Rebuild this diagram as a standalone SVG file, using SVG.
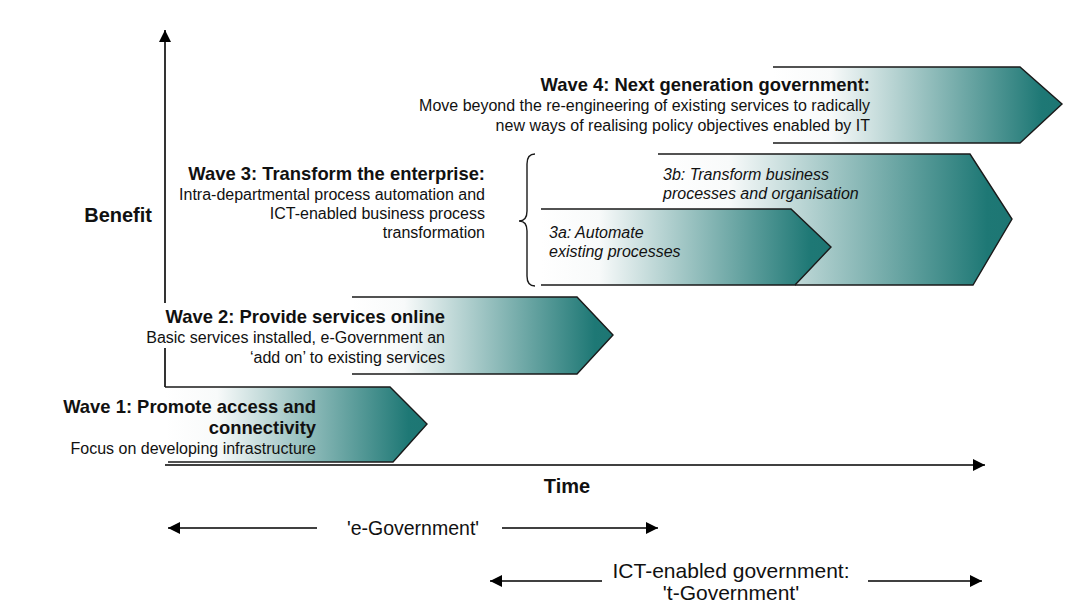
<svg xmlns="http://www.w3.org/2000/svg" width="1084" height="610" viewBox="0 0 1084 610">
  <defs>
    <linearGradient id="teal" x1="0" y1="0" x2="1" y2="0">
      <stop offset="0" stop-color="#ffffff"/>
      <stop offset="0.2" stop-color="#f8fafa"/>
      <stop offset="0.93" stop-color="#1e7875"/>
      <stop offset="1" stop-color="#1d7673"/>
    </linearGradient>
    <marker id="ah" viewBox="0 0 12 12" refX="12" refY="6" markerWidth="12" markerHeight="12" orient="auto" markerUnits="userSpaceOnUse">
      <path d="M0,0 L12,6 L0,12 z" fill="#000"/>
    </marker>
    <marker id="ahs" viewBox="0 0 12 12" refX="12" refY="6" markerWidth="13" markerHeight="12" orient="auto" markerUnits="userSpaceOnUse">
      <path d="M0,0 L12,6 L0,12 z" fill="#000"/>
    </marker>
  </defs>
  <style>
    .fill { fill: url(#teal); stroke: none; }
    .edge { fill: none; stroke: #1a1a1a; stroke-width: 1.4; stroke-linejoin: miter; }
    .axis { fill: none; stroke: #000; stroke-width: 1.6; }
    .span { fill: none; stroke: #000; stroke-width: 1.6; }
    .title { font-family: "Liberation Sans", Arial, sans-serif; font-weight: bold; font-size: 18.4px; fill: #111; }
    .desc { font-family: "Liberation Sans", Arial, sans-serif; font-size: 16px; fill: #111; }
    .sub { font-family: "Liberation Sans", Arial, sans-serif; font-style: italic; font-size: 16px; fill: #111; }
    .lbl { font-family: "Liberation Sans", Arial, sans-serif; font-weight: bold; font-size: 20px; fill: #111; }
    .era { font-family: "Liberation Sans", Arial, sans-serif; font-size: 19.5px; fill: #111; }
    .era2 { font-family: "Liberation Sans", Arial, sans-serif; font-size: 21px; fill: #111; }
  </style>

  <g id="connectors">
    <line class="axis" x1="165" y1="387" x2="165" y2="30" marker-end="url(#ah)"/>
    <line class="axis" x1="165" y1="465" x2="985" y2="465" marker-end="url(#ah)"/>
    <line class="span" x1="317" y1="528" x2="168" y2="528" marker-end="url(#ahs)"/>
    <line class="span" x1="502" y1="528" x2="658" y2="528" marker-end="url(#ahs)"/>
    <line class="span" x1="602" y1="581" x2="490" y2="581" marker-end="url(#ahs)"/>
    <line class="span" x1="868" y1="581" x2="982" y2="581" marker-end="url(#ahs)"/>
  </g>

  <g id="axis-labels">
    <text class="lbl" x="152" y="222" text-anchor="end">Benefit</text>
    <text class="lbl" x="567" y="493" text-anchor="middle">Time</text>
  </g>

  <g id="wave1">
    <polygon class="fill" points="165,387 390,387 427,424 393,462 168,462"/>
    <polyline class="edge" points="165,387 390,387 427,424 393,462 168,462"/>
    <text class="title" x="316" y="413" text-anchor="end">Wave 1: Promote access and</text>
    <text class="title" x="316" y="434" text-anchor="end">connectivity</text>
    <text class="desc" x="316" y="454" text-anchor="end">Focus on developing infrastructure</text>
  </g>

  <g id="wave2">
    <polygon class="fill" points="352,297 577,297 613,335 577,374 352,374"/>
    <polyline class="edge" points="352,297 577,297 613,335 577,374 352,374"/>
    <rect x="146" y="303" width="40" height="45" fill="#fff"/>
    <text class="title" x="445" y="323" text-anchor="end">Wave 2: Provide services online</text>
    <text class="desc" x="445" y="343" text-anchor="end">Basic services installed, e-Government an</text>
    <text class="desc" x="445" y="363" text-anchor="end">‘add on’ to existing services</text>
  </g>

  <g id="wave3">
    <text class="title" x="485" y="180" text-anchor="end">Wave 3: Transform the enterprise:</text>
    <text class="desc" x="485" y="200" text-anchor="end">Intra-departmental process automation and</text>
    <text class="desc" x="485" y="219" text-anchor="end">ICT-enabled business process</text>
    <text class="desc" x="485" y="238" text-anchor="end">transformation</text>
    <path class="edge" d="M535,154 Q527,154 527,164 L527,211 Q527,221 519,221 Q527,221 527,231 L527,276 Q527,286 535,286"/>
  </g>

  <g id="wave3b">
    <polygon class="fill" points="658,154 970,154 1012,219 973,285 658,285"/>
    <polyline class="edge" points="658,154 970,154 1012,219 973,285 795,285"/>
    <text class="sub" x="663" y="180">3b: Transform business</text>
    <text class="sub" x="663" y="199">processes and organisation</text>
  </g>

  <g id="wave3a">
    <polygon class="fill" points="541,209 791,209 831,247 795,285 541,285"/>
    <polyline class="edge" points="541,209 791,209 831,247 795,285 541,285"/>
    <text class="sub" x="549" y="238">3a: Automate</text>
    <text class="sub" x="549" y="257">existing processes</text>
  </g>

  <g id="wave4">
    <polygon class="fill" points="773,67 1020,67 1062,104 1020,143 773,143"/>
    <polyline class="edge" points="773,67 1020,67 1062,104 1020,143 773,143"/>
    <text class="title" x="870" y="91" text-anchor="end">Wave 4: Next generation government:</text>
    <text class="desc" x="870" y="111" text-anchor="end">Move beyond the re-engineering of existing services to radically</text>
    <text class="desc" x="870" y="131" text-anchor="end">new ways of realising policy objectives enabled by IT</text>
  </g>

  <g id="eras">
    <text class="era" x="413" y="535" text-anchor="middle">'e-Government'</text>
    <text class="era2" x="731" y="578" text-anchor="middle">ICT-enabled government:</text>
    <text class="era2" x="731" y="600" text-anchor="middle">'t-Government'</text>
  </g>
</svg>
